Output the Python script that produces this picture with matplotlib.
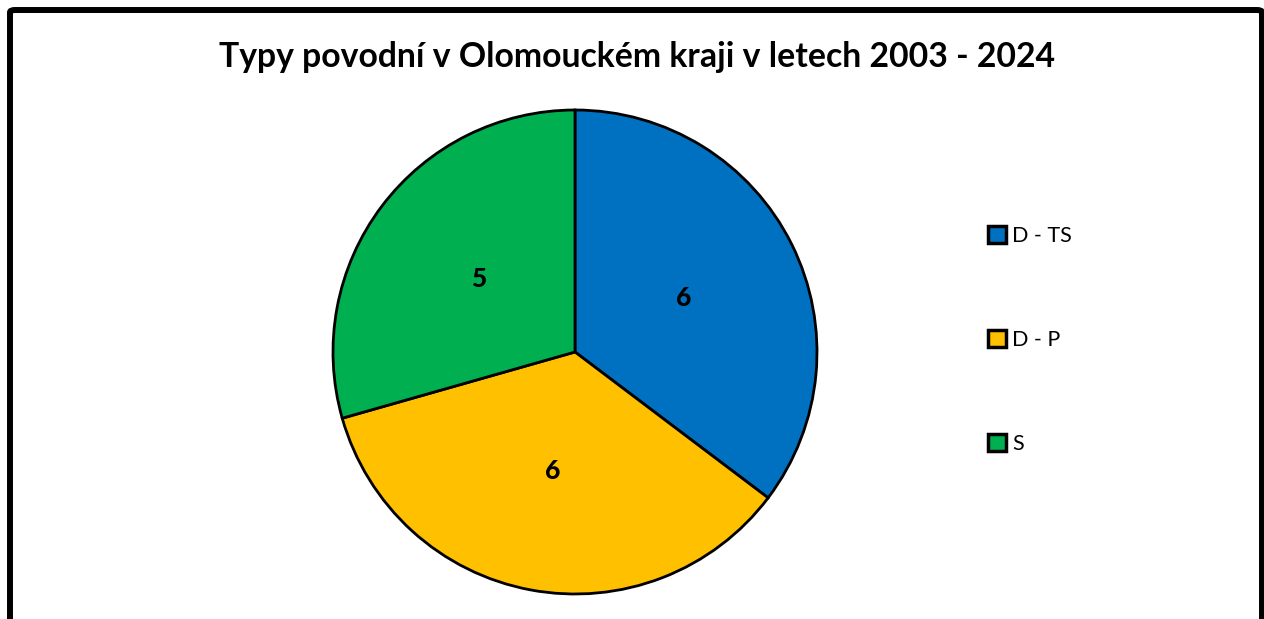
import matplotlib.pyplot as plt
from matplotlib.patches import FancyBboxPatch

categories = ["D - TS", "D - P", "S"]
counts = [6, 6, 5]
colors = ["#0070C0", "#FFC000", "#00B050"]
title = "Typy povodní v Olomouckém kraji v letech 2003 - 2024"

plt.rcParams['font.family'] = ['Lato', 'DejaVu Sans']

W, H = 1264, 619
fig = plt.figure(figsize=(W / 100, H / 100), dpi=100)

# pie centre (575, 352) px, radius 242 px; axes spans 1.25 radii
cx, cy, r = 575, 352, 242
half = r * 1.25
ax = fig.add_axes([(cx - half) / W, (H - cy - half) / H, 2 * half / W, 2 * half / H])

total = sum(counts)
wedges, texts, autotexts = ax.pie(
    counts, colors=colors, startangle=90, counterclock=False,
    autopct=lambda p: "%d" % round(p * total / 100), pctdistance=0.5,
    wedgeprops=dict(edgecolor="black", linewidth=2),
    textprops=dict(fontsize=19, fontweight="black", color="black"))
ax.set_xlim(-1.25, 1.25)
ax.set_ylim(-1.25, 1.25)

fig.text(637 / W, 1 - 57 / H, title, ha="center", va="center",
         fontsize=24.3, fontweight="bold")

leg = fig.legend(wedges, categories, loc="center left",
                 bbox_to_anchor=(969 / W, 1 - 340 / H), frameon=False,
                 fontsize=15.5, handlelength=0.8, handleheight=0.8,
                 handletextpad=0.3, labelspacing=3.9)
for h in leg.legend_handles:
    h.set_linewidth(2.5)

# outer chart border (bottom runs off the image)
border = FancyBboxPatch((10 / W, -30 / H), 1252 / W, (H - 10 + 30) / H,
                        boxstyle="round,pad=0,rounding_size=0.004",
                        transform=fig.transFigure, fill=False,
                        edgecolor="black", linewidth=4.3, clip_on=False)
fig.patches.append(border)

fig.savefig("out.png", dpi=100, facecolor="white")
